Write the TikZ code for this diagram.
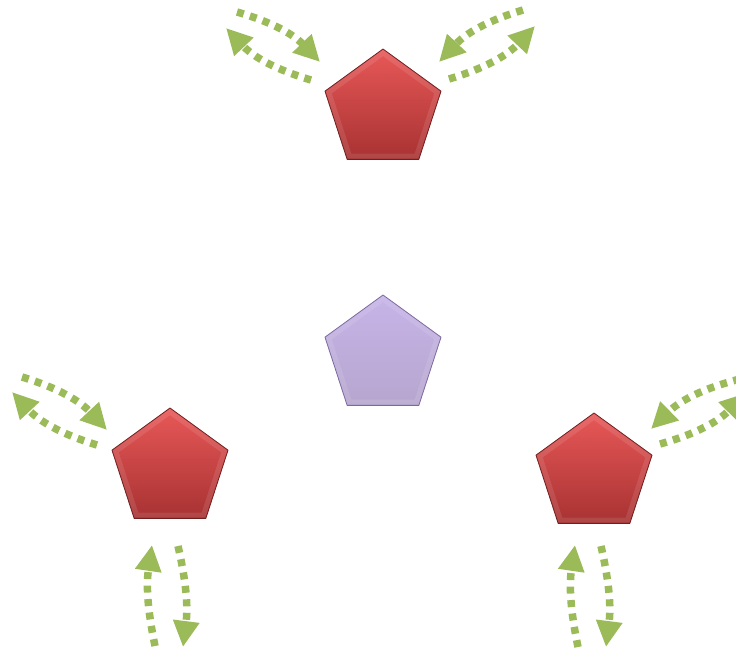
\documentclass[tikz,border=0pt]{standalone}
\usetikzlibrary{arrows.meta,
                shapes.geometric}
\definecolor{arrowgreen}{RGB}{155,187,89}
\definecolor{redtop}{RGB}{232,88,88}
\definecolor{redbot}{RGB}{168,50,50}
\definecolor{redline}{RGB}{112,32,32}
\definecolor{lilactop}{RGB}{198,180,232}
\definecolor{lilacbot}{RGB}{182,166,206}
\definecolor{lilacline}{RGB}{126,106,160}
\tikzset{
        pent/.style={regular polygon, regular polygon sides=5,
                     minimum size=122pt, inner sep=0pt},
        redpent/.style={pent, top color=redtop, bottom color=redbot,
                        draw=redline, line width=0.8pt},
        lilacpent/.style={pent, top color=lilactop, bottom color=lilacbot,
                          draw=lilacline, line width=0.8pt},
        bevel/.style={pent, minimum size=114pt, draw=white,
                      draw opacity=0.1, line width=5pt},
        flowarrow/.style={arrowgreen, line width=7.5pt,
                          dash pattern=on 7pt off 6.5pt,
                          -{Triangle[length=26pt, width=25pt]}},
 }

\begin{document}
\begin{tikzpicture}[x=1pt, y=-1pt]
    \useasboundingbox (0,0) rectangle (736,651);
    \clip (0,0) rectangle (736,651);

    \node[redpent]   (pentTop)    at (383,110) {};
    \node[lilacpent] (pentCenter) at (383,356) {};
    \node[redpent]   (pentLeft)   at (170,469) {};
    \node[redpent]   (pentRight)  at (594,474) {};
    \foreach \p in {pentTop, pentCenter, pentLeft, pentRight}
        \node[bevel] at (\p) {};

    % free ends of the arrows
    \coordinate (tlA) at (237,12);  \coordinate (tlB) at (320,62);
    \coordinate (tlC) at (311,80);  \coordinate (tlD) at (226,28);
    \coordinate (trA) at (523,10);  \coordinate (trB) at (439,62);
    \coordinate (trC) at (449,79);  \coordinate (trD) at (535,26);
    \coordinate (llA) at (22,377);  \coordinate (llB) at (107,430);
    \coordinate (llC) at (97,445);  \coordinate (llD) at (12,392);
    \coordinate (lbA) at (155,646); \coordinate (lbB) at (152,545);
    \coordinate (lbC) at (178,546); \coordinate (lbD) at (183,647);
    \coordinate (rrA) at (740,379); \coordinate (rrB) at (651,429);
    \coordinate (rrC) at (660,444); \coordinate (rrD) at (746,393);
    \coordinate (rbA) at (578,647); \coordinate (rbB) at (575,545);
    \coordinate (rbC) at (601,546); \coordinate (rbD) at (606,647);

    \draw[flowarrow] (tlA) to[bend left=15] (tlB);
    \draw[flowarrow] (tlC) to[bend left=15] (tlD);
    \draw[flowarrow] (trA) to[bend right=15] (trB);
    \draw[flowarrow] (trC) to[bend right=15] (trD);
    \draw[flowarrow] (llA) to[bend left=15] (llB);
    \draw[flowarrow] (llC) to[bend left=15] (llD);
    \draw[flowarrow] (lbA) to[bend left=10] (lbB);
    \draw[flowarrow] (lbC) to[bend left=10] (lbD);
    \draw[flowarrow] (rrA) to[bend right=15] (rrB);
    \draw[flowarrow] (rrC) to[bend right=15] (rrD);
    \draw[flowarrow] (rbA) to[bend left=10] (rbB);
    \draw[flowarrow] (rbC) to[bend left=10] (rbD);
\end{tikzpicture}
\end{document}
